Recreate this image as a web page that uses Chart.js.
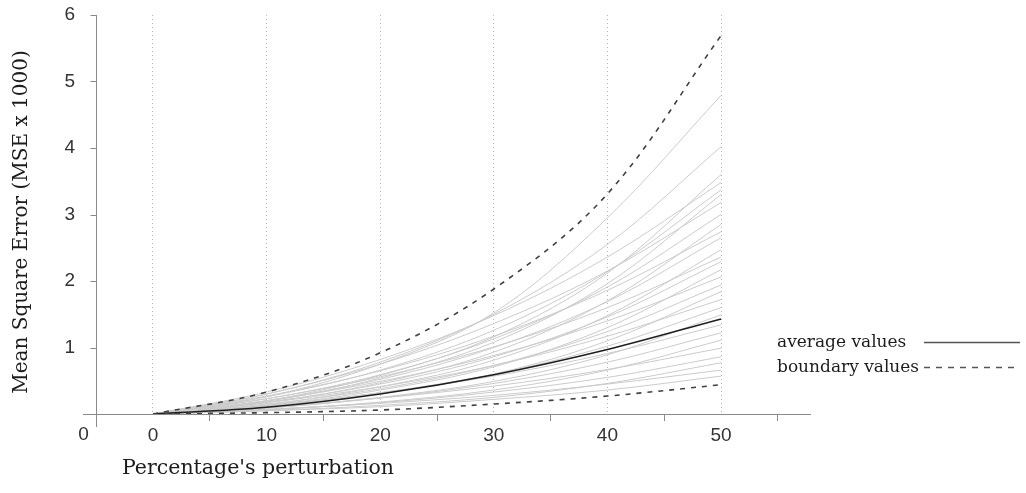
<!DOCTYPE html>
<html>
<head>
<meta charset="utf-8">
<script src="https://cdn.jsdelivr.net/npm/chart.js@4/dist/chart.umd.min.js"></script>
<style>
  html, body { margin: 0; padding: 0; background: #fff; }
  #wrap { width: 1026px; height: 493px; position: relative; }
</style>
</head>
<body>
<div id="wrap"><canvas id="c" width="1026" height="493"></canvas></div>
<script>
// Perturbation levels (%) at which the error was measured
const perturbation = [0, 10, 20, 30, 40, 50];

// Mean curve and envelope (MSE x 1000)
const averageValues = [0, 0.10, 0.30, 0.59, 0.97, 1.43];
const upperBoundary = [0, 0.33, 0.92, 1.88, 3.31, 5.69];
const lowerBoundary = [0, 0.02, 0.06, 0.15, 0.27, 0.44];

// Individual runs (MSE x 1000)
const trialCurves = [
  [0, 0.26, 0.75, 1.52, 2.95, 4.79],
  [0, 0.30, 0.78, 1.50, 2.55, 4.02],
  [0, 0.20, 0.58, 1.16, 2.12, 3.60],
  [0, 0.33, 0.82, 1.48, 2.36, 3.48],
  [0, 0.26, 0.66, 1.26, 2.14, 3.37],
  [0, 0.19, 0.54, 1.08, 1.96, 3.30],
  [0, 0.30, 0.75, 1.36, 2.15, 3.18],
  [0, 0.23, 0.59, 1.13, 1.91, 3.00],
  [0, 0.17, 0.47, 0.93, 1.70, 2.85],
  [0, 0.27, 0.65, 1.17, 1.86, 2.74],
  [0, 0.20, 0.52, 1.00, 1.69, 2.65],
  [0, 0.14, 0.41, 0.81, 1.48, 2.47],
  [0, 0.23, 0.56, 1.01, 1.60, 2.36],
  [0, 0.18, 0.45, 0.86, 1.46, 2.29],
  [0, 0.13, 0.36, 0.71, 1.30, 2.17],
  [0, 0.20, 0.49, 0.88, 1.40, 2.06],
  [0, 0.15, 0.38, 0.73, 1.24, 1.94],
  [0, 0.11, 0.31, 0.60, 1.10, 1.84],
  [0, 0.17, 0.41, 0.73, 1.17, 1.72],
  [0, 0.12, 0.32, 0.60, 1.02, 1.60],
  [0, 0.09, 0.25, 0.49, 0.89, 1.49],
  [0, 0.13, 0.32, 0.57, 0.91, 1.34],
  [0, 0.09, 0.24, 0.46, 0.78, 1.22],
  [0, 0.06, 0.18, 0.36, 0.66, 1.11],
  [0, 0.10, 0.24, 0.42, 0.67, 0.99],
  [0, 0.07, 0.17, 0.33, 0.55, 0.86],
  [0, 0.05, 0.13, 0.25, 0.46, 0.77],
  [0, 0.07, 0.16, 0.28, 0.45, 0.66],
  [0, 0.05, 0.11, 0.22, 0.36, 0.57]
];

// Axis ticks
const xTickValues = [0, 5, 10, 15, 20, 25, 30, 35, 40, 45, 50, 55];
const xTickLabels = ['0', '', '10', '', '20', '', '30', '', '40', '', '50', ''];
const yTickValues = [1, 2, 3, 4, 5, 6];
const yTickLabels = ['1', '2', '3', '4', '5', '6'];

const yTitle = 'Mean Square Error (MSE x 1000)';
const xTitle = "Percentage's perturbation";
const legendItems = ['average values', 'boundary values'];

const SANS = '"Liberation Sans", Arial, sans-serif';
const SERIF = '"DejaVu Serif", serif';

const toPoints = vals => vals.map((v, i) => ({ x: perturbation[i], y: v }));
const lineBase = { pointRadius: 0, fill: false, tension: 0.35 };

const datasets = [
  Object.assign({ label: legendItems[1], data: toPoints(upperBoundary), borderColor: '#404040', borderWidth: 1.6, borderDash: [5, 6] }, lineBase),
  Object.assign({ label: legendItems[1], data: toPoints(lowerBoundary), borderColor: '#404040', borderWidth: 1.6, borderDash: [5, 6] }, lineBase),
  Object.assign({ label: legendItems[0], data: toPoints(averageValues), borderColor: '#1e1e1e', borderWidth: 1.5 }, lineBase)
].concat(trialCurves.map((c, i) => Object.assign({ label: 'run ' + (i + 1), data: toPoints(c), borderColor: '#cbcbcb', borderWidth: 1 }, lineBase)));

// Offset y axis, titles and the key drawn on top of the plot
const frameDecor = {
  id: 'frameDecor',
  afterDraw(chart) {
    const { ctx, scales: { x, y } } = chart;
    const ax = Math.round(x.getPixelForValue(-5)) + 0.5;
    const y0 = y.getPixelForValue(0);
    ctx.save();
    ctx.strokeStyle = '#8a8a8a';
    ctx.lineWidth = 1;
    ctx.beginPath();
    ctx.moveTo(ax, y.getPixelForValue(6));
    ctx.lineTo(ax, y0 + 13);
    yTickValues.forEach(v => {
      const py = Math.round(y.getPixelForValue(v)) + 0.5;
      ctx.moveTo(ax - 6, py);
      ctx.lineTo(ax, py);
    });
    ctx.stroke();

    // zero of the value axis, set below the corner
    ctx.fillStyle = '#333';
    ctx.font = '19px ' + SANS;
    ctx.textAlign = 'center';
    ctx.textBaseline = 'middle';
    ctx.fillText('0', ax - 13, y0 + 21);

    // axis titles
    ctx.fillStyle = '#1c1c1c';
    ctx.font = '20px ' + SERIF;
    ctx.save();
    ctx.translate(22, 222);
    ctx.rotate(-Math.PI / 2);
    ctx.textAlign = 'center';
    ctx.textBaseline = 'middle';
    ctx.fillText(yTitle, 0, 0);
    ctx.restore();
    ctx.font = '20.5px ' + SERIF;
    ctx.textAlign = 'left';
    ctx.textBaseline = 'middle';
    ctx.fillText(xTitle, 122, 469);

    // key
    ctx.font = '17px ' + SERIF;
    ctx.textBaseline = 'alphabetic';
    ctx.fillText(legendItems[0], 777, 347);
    ctx.fillText(legendItems[1], 777, 372);
    ctx.strokeStyle = '#555';
    ctx.lineWidth = 1.5;
    ctx.beginPath();
    ctx.moveTo(924, 342.5);
    ctx.lineTo(1020, 342.5);
    ctx.stroke();
    ctx.setLineDash([6, 6]);
    ctx.beginPath();
    ctx.moveTo(924, 367.5);
    ctx.lineTo(1020, 367.5);
    ctx.stroke();
    ctx.restore();
  }
};

new Chart(document.getElementById('c'), {
  type: 'line',
  data: { datasets },
  plugins: [frameDecor],
  options: {
    responsive: false,
    devicePixelRatio: 1,
    animation: false,
    layout: { padding: { left: 0, right: 216, top: 15, bottom: 0 } },
    plugins: { legend: { display: false }, tooltip: { enabled: false } },
    scales: {
      x: {
        type: 'linear',
        min: -6.16,
        max: 57.83,
        afterBuildTicks: s => { s.ticks = xTickValues.map(v => ({ value: v })); },
        afterFit: s => { s.height = 79; s.paddingLeft = 0; s.paddingRight = 0; },
        ticks: {
          autoSkip: false,
          maxRotation: 0,
          padding: 3,
          color: '#333',
          font: { family: SANS, size: 19 },
          callback: (v) => xTickLabels[xTickValues.indexOf(v)] ?? ''
        },
        grid: {
          lineWidth: 1,
          drawTicks: true,
          tickLength: 7,
          color: c => (c.tick && c.tick.value % 10 === 0 && c.tick.value <= 50) ? '#b4b4b4' : 'rgba(0,0,0,0)',
          tickColor: c => (c.tick && c.tick.value % 10 !== 0) ? '#8a8a8a' : 'rgba(0,0,0,0)'
        },
        border: { display: true, color: '#8a8a8a', width: 1, dash: [1, 3] }
      },
      y: {
        type: 'linear',
        min: 0,
        max: 6,
        afterBuildTicks: s => { s.ticks = yTickValues.map(v => ({ value: v })); },
        afterFit: s => { s.width = 83; s.paddingTop = 0; s.paddingBottom = 0; },
        ticks: {
          padding: 8,
          color: '#333',
          font: { family: SANS, size: 19 },
          callback: (v) => yTickLabels[yTickValues.indexOf(v)] ?? ''
        },
        grid: { display: false, drawTicks: false },
        border: { display: false }
      }
    }
  }
});
</script>
</body>
</html>
